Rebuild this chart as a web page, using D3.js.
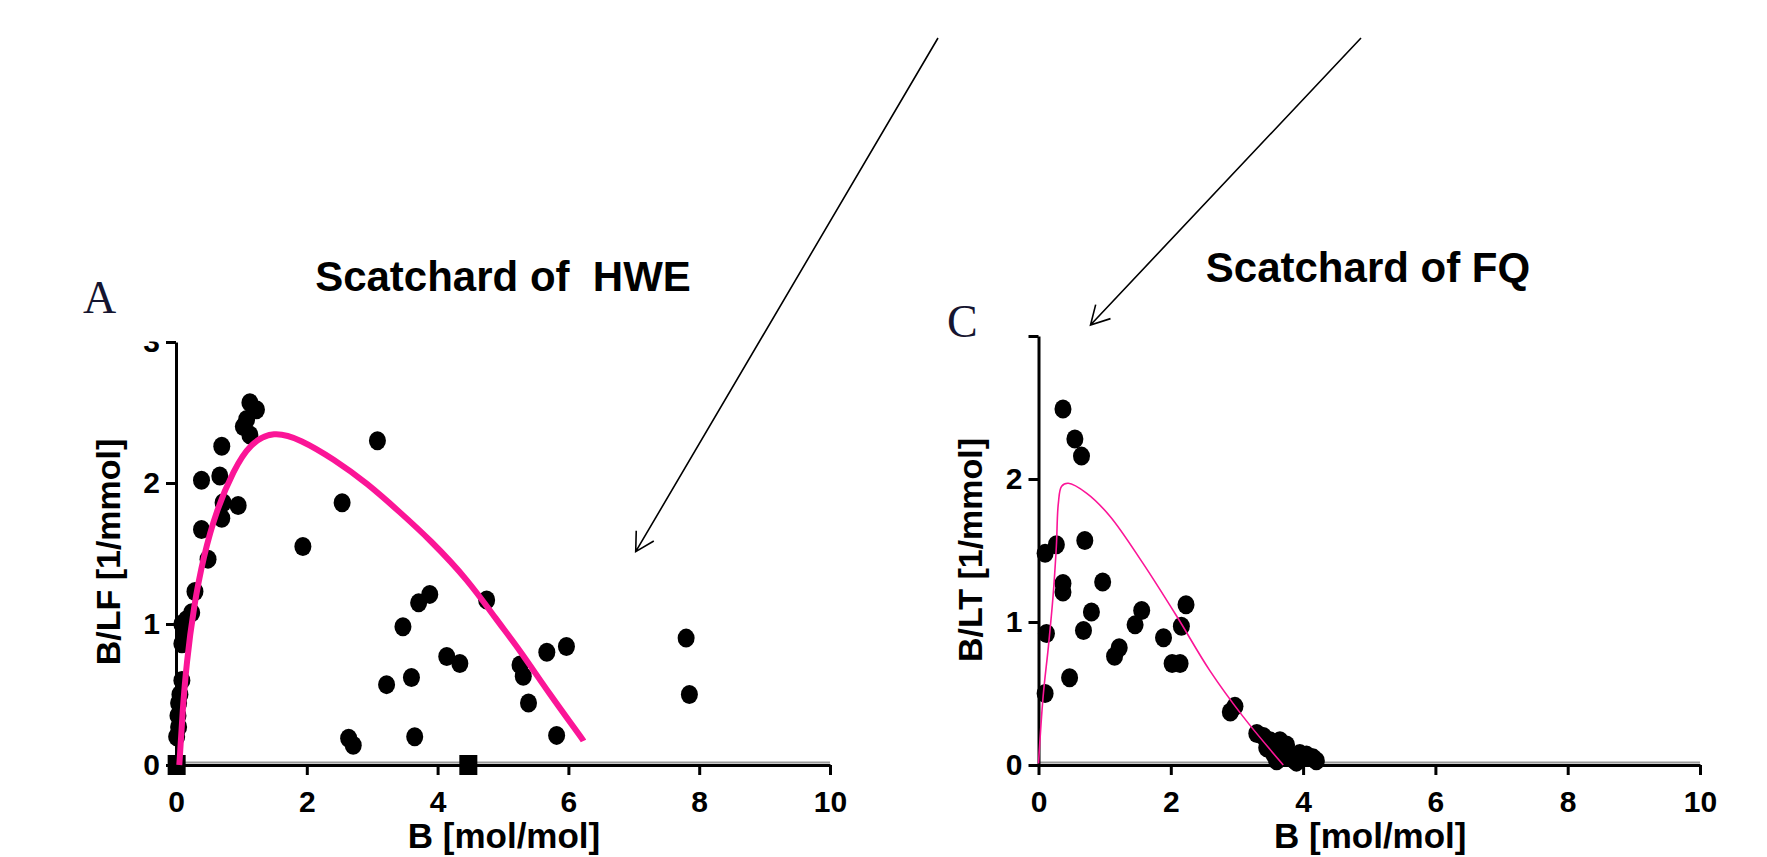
<!DOCTYPE html>
<html>
<head>
<meta charset="utf-8">
<script src="https://cdn.jsdelivr.net/npm/d3@7"></script>
<style>
    body { margin: 0; background: #fff; overflow: hidden; }
    svg { display: block; }
    text { font-family: "Liberation Sans", Arial, sans-serif; }
</style>
</head>
<body>
<svg id="drawing_region"></svg>
<script>
// tick values shared by both panels
const xTicks = [0, 2, 4, 6, 8, 10];
const yTicks = [0, 1, 2, 3];

// Panel A: Scatchard of HWE
const hweX = [1.13, 1.23, 1.08, 1.03, 1.13, 0.70, 0.39, 0.67, 0.95, 0.72, 0.70, 0.39, 0.49, 0.29, 0.24,
              0.09, 0.16, 0.09, 0.12, 0.09, 0.06, 0.04, 0.04, 0.01, 0.03,
              1.94, 2.54, 3.08, 2.64, 2.71, 3.65, 3.22, 3.60, 3.47, 3.71, 3.88, 4.14, 4.34, 4.75,
              5.67, 5.97, 5.26, 5.31, 5.39, 5.82, 7.80, 7.85];
const hweY = [2.57, 2.52, 2.45, 2.40, 2.34, 2.26, 2.02, 2.05, 1.84, 1.86, 1.75, 1.67, 1.46, 1.23, 1.08,
              1.00, 1.03, 0.86, 0.93, 0.60, 0.50, 0.44, 0.27, 0.20, 0.35,
              1.55, 1.86, 2.30, 0.19, 0.14, 0.20, 0.57, 0.62, 0.98, 1.15, 1.21, 0.77, 0.72, 1.17,
              0.80, 0.84, 0.71, 0.63, 0.44, 0.21, 0.90, 0.50];
const hweSquareX = [0.01, 4.47];
const hweSquareY = [0, 0];
const hweFitX = [0.05, 0.06, 0.10, 0.16, 0.27, 0.42, 0.62, 0.88, 1.13, 1.49, 1.90, 2.41, 2.92, 3.43, 3.88, 4.47, 4.90, 5.25, 5.70, 6.22, 6.23];
const hweFitY = [0.00, 0.06, 0.38, 0.72, 1.12, 1.48, 1.81, 2.09, 2.28, 2.37, 2.31, 2.17, 2.00, 1.79, 1.60, 1.31, 1.03, 0.82, 0.51, 0.18, 0.17];

// Panel C: Scatchard of FQ
const fqX = [0.37, 0.55, 0.65, 0.27, 0.10, 0.70, 0.37, 0.37, 0.97, 0.80, 0.68, 0.12, 1.56, 1.46, 1.15, 1.22,
             1.89, 2.23, 2.16, 2.02, 2.14, 0.47, 0.10, 2.90, 2.97,
             3.30, 3.40, 3.50, 3.45, 3.55, 3.60, 3.65, 3.75, 3.70, 3.85, 3.90, 3.95, 4.05, 4.15, 4.20];
const fqY = [2.49, 2.28, 2.16, 1.54, 1.48, 1.57, 1.27, 1.21, 1.28, 1.07, 0.94, 0.92, 1.08, 0.98, 0.76, 0.82,
             0.89, 1.12, 0.97, 0.71, 0.71, 0.61, 0.50, 0.37, 0.41,
             0.22, 0.20, 0.17, 0.12, 0.08, 0.03, 0.17, 0.14, 0.06, 0.04, 0.02, 0.08, 0.07, 0.05, 0.03];
const fqFitX = [0.00, 0.07, 0.15, 0.22, 0.27, 0.30, 0.35, 0.45, 0.73, 1.08, 1.58, 2.09, 2.59, 3.09, 3.70];
const fqFitY = [0.01, 0.48, 0.83, 1.18, 1.53, 1.83, 1.95, 1.97, 1.90, 1.74, 1.41, 1.04, 0.66, 0.34, 0.00];

const svg = d3.select('#drawing_region')
    .attr('width', 1767)
    .attr('height', 857);

function drawPanel(cfg) {
    const xscale = d3.scaleLinear().domain([0, 10]).range([cfg.left, cfg.right]);
    const yscale = d3.scaleLinear().domain([0, 3]).range([cfg.bottom, cfg.top]);
    const g = svg.append('g');

    // faint grey edge on top of the x axis line
    g.append('line')
        .attr('x1', xscale(0)).attr('x2', xscale(10))
        .attr('y1', yscale(0) - 2.5).attr('y2', yscale(0) - 2.5)
        .attr('stroke', '#9a9a9a').attr('stroke-width', 2);

    const xaxis = d3.axisBottom(xscale)
        .tickValues(xTicks)
        .tickSize(10)
        .tickPadding(16)
        .tickSizeOuter(0);
    const yaxis = d3.axisLeft(yscale)
        .tickValues(yTicks)
        .tickSize(10)
        .tickPadding(6)
        .tickSizeOuter(0)
        .tickFormat(d => (d === 3 && !cfg.showTop) ? '' : d);

    const xg = g.append('g')
        .attr('transform', `translate(0, ${yscale(0)})`)
        .call(xaxis);
    const yg = g.append('g')
        .attr('transform', `translate(${xscale(0)}, 0)`)
        .call(yaxis);

    [xg, yg].forEach(a => {
        a.select('.domain').attr('stroke', '#000').attr('stroke-width', 3);
        a.selectAll('.tick line').attr('stroke', '#000').attr('stroke-width', 3);
        a.selectAll('.tick text')
            .attr('fill', '#000')
            .style('font-size', '30px')
            .style('font-weight', 'bold');
    });

    // top of the "3" label is cut off in the original
    if (cfg.showTop) {
        g.append('rect')
            .attr('x', xscale(0) - 50).attr('y', yscale(3) - 25)
            .attr('width', 38).attr('height', 24.5)
            .attr('fill', '#fff');
    }

    // data points
    g.selectAll('ellipse.pt')
        .data(d3.zip(cfg.px, cfg.py))
        .enter()
        .append('ellipse')
        .attr('class', 'pt')
        .attr('cx', d => xscale(d[0]))
        .attr('cy', d => yscale(d[1]))
        .attr('rx', 8.5)
        .attr('ry', 9.5)
        .attr('fill', '#000');

    if (cfg.sqx) {
        g.selectAll('rect.sq')
            .data(d3.zip(cfg.sqx, cfg.sqy))
            .enter()
            .append('rect')
            .attr('class', 'sq')
            .attr('x', d => xscale(d[0]) - 9)
            .attr('y', d => yscale(d[1]) - 10)
            .attr('width', 18)
            .attr('height', 20)
            .attr('fill', '#000');
    }

    // fitted curve
    const line = d3.line()
        .x(d => xscale(d[0]))
        .y(d => yscale(d[1]))
        .curve(cfg.curve);

    g.append('path')
        .datum(d3.zip(cfg.fx, cfg.fy))
        .attr('d', line)
        .attr('fill', 'none')
        .attr('stroke', '#fb1597')
        .attr('stroke-width', cfg.fitWidth);

    // titles and labels
    g.append('text')
        .attr('x', cfg.titleX).attr('y', cfg.titleY)
        .attr('text-anchor', 'middle')
        .style('font-size', '42px')
        .style('font-weight', 'bold')
        .style('white-space', 'pre')
        .text(cfg.title);

    g.append('text')
        .attr('x', cfg.letterX).attr('y', cfg.letterY)
        .style('font-family', '"Liberation Serif", "Times New Roman", serif')
        .style('font-size', '46px')
        .attr('fill', '#151530')
        .text(cfg.letter);

    g.append('text')
        .attr('x', (cfg.left + cfg.right) / 2 + 1).attr('y', 848)
        .attr('text-anchor', 'middle')
        .style('font-size', '35px')
        .style('font-weight', 'bold')
        .text('B [mol/mol]');

    g.append('text')
        .attr('transform', `translate(${cfg.ylabelX}, ${cfg.ylabelY}) rotate(-90)`)
        .attr('text-anchor', 'middle')
        .style('font-size', '34px')
        .style('font-weight', 'bold')
        .text(cfg.ylabel);
}

drawPanel({
    left: 176, right: 830, bottom: 765, top: 342,
    px: hweX, py: hweY, sqx: hweSquareX, sqy: hweSquareY,
    fx: hweFitX, fy: hweFitY, fitWidth: 6, curve: d3.curveBasis,
    title: 'Scatchard of  HWE', titleX: 503, titleY: 291,
    letter: 'A', letterX: 83, letterY: 313,
    ylabel: 'B/LF [1/mmol]', ylabelX: 120, ylabelY: 552,
    showTop: true
});

drawPanel({
    left: 1038.5, right: 1700, bottom: 765, top: 336,
    px: fqX, py: fqY,
    fx: fqFitX, fy: fqFitY, fitWidth: 1.6, curve: d3.curveCatmullRom.alpha(0.5),
    title: 'Scatchard of FQ', titleX: 1368, titleY: 282,
    letter: 'C', letterX: 947, letterY: 337,
    ylabel: 'B/LT [1/mmol]', ylabelX: 982, ylabelY: 550,
    showTop: false
});

// annotation arrows pointing at the two panels
const arrows = [
    {x1: 938, y1: 38, x2: 635.7, y2: 551.7},
    {x1: 1361, y1: 38, x2: 1090.5, y2: 325}
];

arrows.forEach(a => {
    const ang = Math.atan2(a.y1 - a.y2, a.x1 - a.x2);
    const len = 21, spread = 29 * Math.PI / 180;
    const p = d3.path();
    p.moveTo(a.x1, a.y1);
    p.lineTo(a.x2, a.y2);
    p.moveTo(a.x2 + len * Math.cos(ang - spread), a.y2 + len * Math.sin(ang - spread));
    p.lineTo(a.x2, a.y2);
    p.lineTo(a.x2 + len * Math.cos(ang + spread), a.y2 + len * Math.sin(ang + spread));
    svg.append('path')
        .attr('d', p.toString())
        .attr('fill', 'none')
        .attr('stroke', '#000')
        .attr('stroke-width', 1.6);
});
</script>
</body>
</html>
